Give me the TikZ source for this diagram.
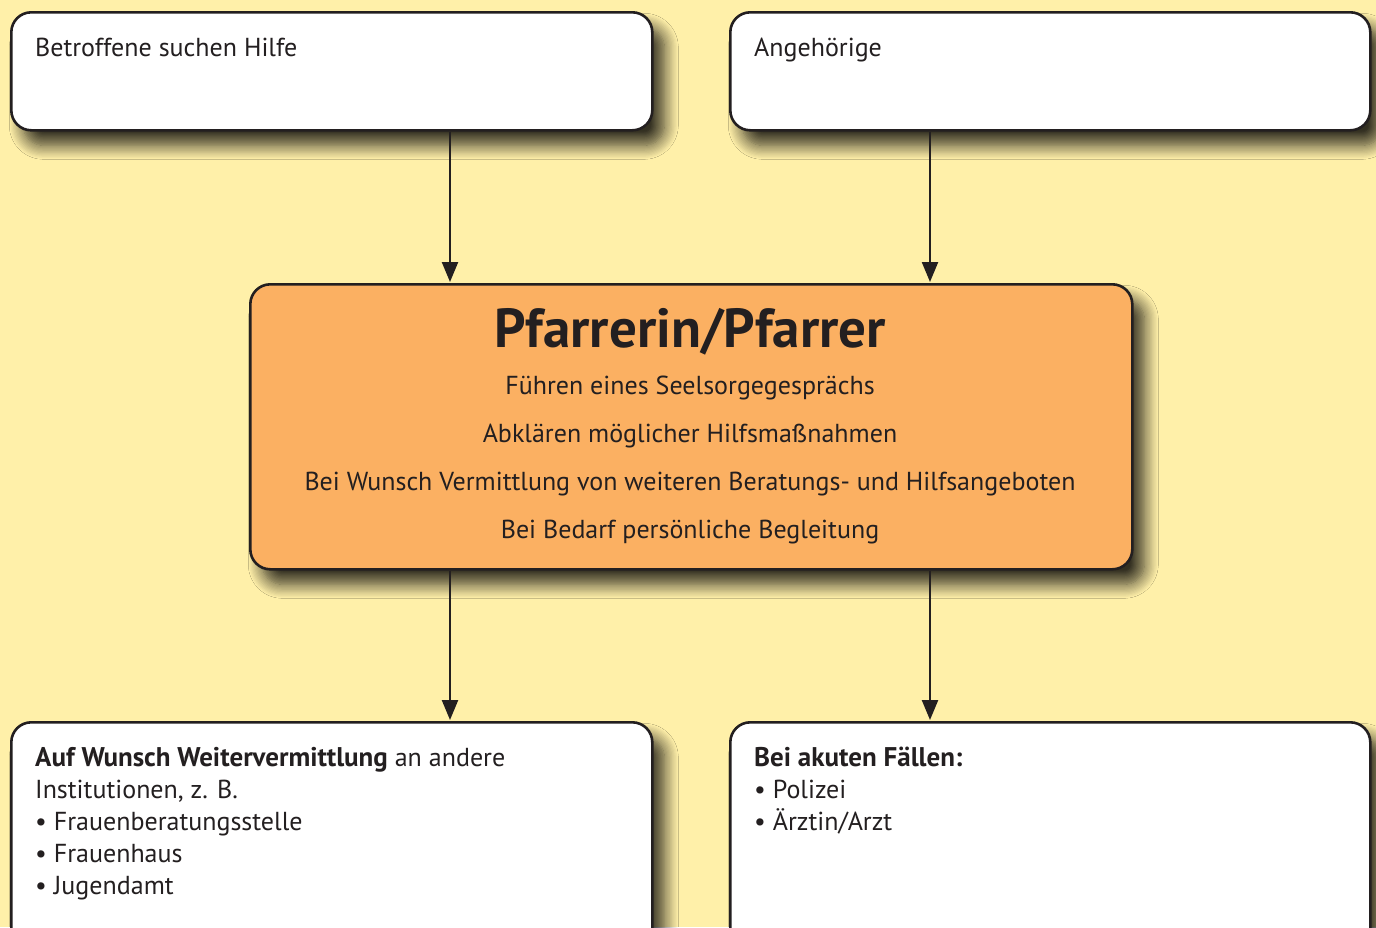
\documentclass[tikz,border=0pt]{standalone}
\usepackage{fontspec}
\setmainfont{PT Sans}
\usetikzlibrary{shadows.blur,arrows.meta}
\definecolor{bg}{HTML}{FFF0A9}
\definecolor{orange}{HTML}{FBB062}
\definecolor{ink}{HTML}{231F20}
\tikzset{
  box/.style={draw=ink, line width=2.6pt, rounded corners=20pt, anchor=north west, inner sep=0pt,
    blur shadow={shadow xshift=12pt, shadow yshift=-15pt, shadow blur radius=14pt, shadow blur steps=12, shadow opacity=80}},
  txt/.style={anchor=base west, inner sep=0pt, text=ink, font=\fontsize{26}{32}\selectfont},
  ctxt/.style={anchor=base, inner sep=0pt, text=ink, font=\fontsize{26}{32}\selectfont},
  arr/.style={draw=ink, line width=2.3pt, -{Triangle[length=20pt,width=16pt]}, shorten >=1pt}
}
\begin{document}
\begin{tikzpicture}[x=1pt,y=-1pt]
\fill[bg] (0,0) rectangle (1376,927);
\useasboundingbox (0,0) rectangle (1376,927);
% boxes
\node[box, fill=white, minimum width=641pt, minimum height=118pt] (tl) at (10,11) {};
\node[box, fill=white, minimum width=640pt, minimum height=118pt] (tr) at (729,11) {};
\node[box, fill=orange, minimum width=882pt, minimum height=285pt] (mid) at (249,283) {};
\node[box, fill=white, minimum width=641pt, minimum height=230pt] (bl) at (10,721) {};
\node[box, fill=white, minimum width=640pt, minimum height=230pt] (br) at (729,721) {};
% texts
\node[txt] (t1) at (35,56) {Betroffene suchen Hilfe};
\node[txt] (t2) at (754,56) {Angehörige};
\node[ctxt, font=\fontsize{55}{60}\bfseries\selectfont] (m0) at (690,347) {Pfarrerin/Pfarrer};
\node[ctxt] (m1) at (690,394) {Führen eines Seelsorgegesprächs};
\node[ctxt] (m2) at (690,442) {Abklären möglicher Hilfsmaßnahmen};
\node[ctxt] (m3) at (690,490) {Bei Wunsch Vermittlung von weiteren Beratungs- und Hilfsangeboten};
\node[ctxt] (m4) at (690,538) {Bei Bedarf persönliche Begleitung};
\node[txt] (b1) at (35,766) {\textbf{\fontsize{27}{32}\selectfont Auf Wunsch Weitervermittlung} an andere};
\node[txt] (b2) at (35,798) {Institutionen, z. B.};
\node[txt] (b3) at (35,830) {• Frauenberatungsstelle};
\node[txt] (b4) at (35,862) {• Frauenhaus};
\node[txt] (b5) at (35,894) {• Jugendamt};
\node[txt] (c1) at (754,766) {\textbf{\fontsize{27}{32}\selectfont Bei akuten Fällen:}};
\node[txt] (c2) at (754,798) {• Polizei};
\node[txt] (c3) at (754,830) {• Ärztin/Arzt};
% arrows
\draw[arr] (tl.south -| 450,0) -- (mid.north -| 450,0);
\draw[arr] (tr.south -| 930,0) -- (mid.north -| 930,0);
\draw[arr] (mid.south -| 450,0) -- (bl.north -| 450,0);
\draw[arr] (mid.south -| 930,0) -- (br.north -| 930,0);
\end{tikzpicture}
\end{document}
